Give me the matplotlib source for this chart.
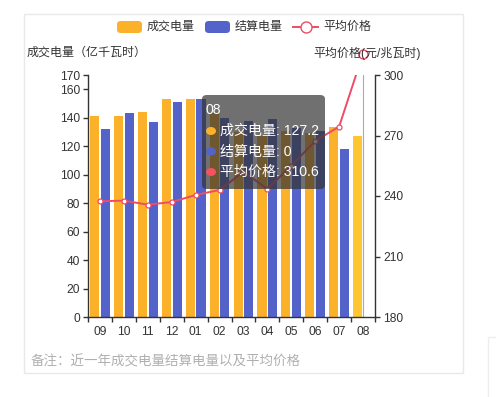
import matplotlib
matplotlib.use("Agg")
import matplotlib.pyplot as plt
from matplotlib.patches import FancyBboxPatch, Rectangle, Circle
from matplotlib.lines import Line2D
import numpy as np

plt.rcParams['font.family'] = ['Liberation Sans', 'Noto Sans CJK SC', 'DejaVu Sans']

months = ['09', '10', '11', '12', '01', '02', '03', '04', '05', '06', '07', '08']
traded = [141.2, 141.0, 144.0, 152.9, 152.9, 143.0, 130.0, 127.0, 130.5, 129.0, 133.7, 127.2]
settled = [132.1, 143.1, 137.2, 151.0, 153.4, 140.0, 138.0, 139.0, 133.0, 131.0, 118.0, 0.0]
price = [237.4, 237.7, 235.7, 237.0, 240.5, 243.0, 252.0, 243.5, 255.0, 267.3, 274.4, 310.6]
left_ticks = [0, 20, 40, 60, 80, 100, 120, 140, 160, 170]
right_ticks = [180, 210, 240, 270, 300]

W, H = 496, 397
ORANGE = '#FCB12B'
ORANGE_HI = '#FFC631'
BLUE = '#5463C9'
RED = '#EE4B66'
AXC = '#333333'

fig = plt.figure(figsize=(W / 100, H / 100), dpi=100)

def fx(x):
    return x / W

def fy(y):
    return 1 - y / H

def pt(px):
    return px * 72 / 100

ax = fig.add_axes([fx(88), fy(317), (375 - 88) / W, (317 - 75) / H])
ax2 = ax.twinx()

x = np.arange(len(months))
bw = 0.38
off = 0.225
cols = [ORANGE] * (len(months) - 1) + [ORANGE_HI]
ax.bar(x - off, traded, width=bw, color=cols, zorder=2)
ax.bar(x + off, settled, width=bw, color=BLUE, zorder=2)

ax.set_xlim(-0.5, len(months) - 0.5)
ax.set_ylim(0, 170)
ax.set_yticks(left_ticks)
ax.set_yticklabels([str(t) for t in left_ticks])
ax.set_xticks(x)
ax.set_xticklabels(months)
ax.set_xticks(np.arange(len(months) + 1) - 0.5, minor=True)
ax.tick_params(axis='x', which='major', length=0, pad=pt(9), labelsize=pt(12), colors=AXC)
ax.tick_params(axis='x', which='minor', length=pt(5), width=1, color=AXC)
ax.tick_params(axis='y', length=pt(5), width=1, color=AXC, pad=pt(3), labelsize=pt(12), labelcolor=AXC)
for s in ['top', 'right']:
    ax.spines[s].set_visible(False)
for s in ['left', 'bottom']:
    ax.spines[s].set_color(AXC)
    ax.spines[s].set_linewidth(1)

# axis pointer line at hovered category
ax.axvline(11, color='#aaaaaa', lw=0.8, zorder=1)

ax2.set_ylim(180, 300)
ax2.set_yticks(right_ticks)
ax2.set_yticklabels([str(t) for t in right_ticks])
ax2.tick_params(axis='y', length=pt(5), width=1, color=AXC, pad=pt(3), labelsize=pt(12), labelcolor=AXC)
for s in ['top', 'left', 'bottom']:
    ax2.spines[s].set_visible(False)
ax2.spines['right'].set_color(AXC)
ax2.spines['right'].set_linewidth(1)

ax2.plot(x, price, color=RED, lw=1.4, zorder=3)
ax2.plot(x[:-1], price[:-1], ls='none', marker='o', ms=pt(5), mfc='white', mec=RED,
         mew=0.9, zorder=4, clip_on=False)
ax2.plot(x[-1:], price[-1:], ls='none', marker='o', ms=pt(9), mfc='white', mec=RED,
         mew=1.0, zorder=4, clip_on=False)

# outer border
fig.patches.append(Rectangle((fx(24), fy(373)), (463 - 24) / W, (373 - 14) / H,
                             transform=fig.transFigure, fill=False, ec='#e8e8e8', lw=1))
fig.lines.append(Line2D([fx(488), fx(488), fx(496)], [fy(397), fy(337), fy(337)],
                        transform=fig.transFigure, color='#eeeeee', lw=1))

# legend
fig.patches.append(FancyBboxPatch((fx(117), fy(33)), 25 / W, 12 / H,
                                  boxstyle='round,pad=0,rounding_size=0.008',
                                  transform=fig.transFigure, fc=ORANGE, ec='none'))
fig.text(fx(147), fy(27), '成交电量', fontsize=pt(12), color=AXC, va='center', ha='left')
fig.patches.append(FancyBboxPatch((fx(205), fy(33)), 25 / W, 12 / H,
                                  boxstyle='round,pad=0,rounding_size=0.008',
                                  transform=fig.transFigure, fc=BLUE, ec='none'))
fig.text(fx(235), fy(27), '结算电量', fontsize=pt(12), color=AXC, va='center', ha='left')
fig.lines.append(Line2D([fx(293), fx(318)], [fy(27), fy(27)], transform=fig.transFigure,
                        color=RED, lw=1.4))
fig.lines.append(Line2D([fx(305.5)], [fy(27)], transform=fig.transFigure, marker='o',
                        ms=pt(11), mfc='white', mec=RED, mew=1.0, ls='none'))
fig.text(fx(323), fy(27), '平均价格', fontsize=pt(12), color=AXC, va='center', ha='left')

# axis names
fig.text(fx(27), fy(53), '成交电量（亿千瓦时）', fontsize=pt(12), color=AXC, va='center', ha='left')
fig.text(fx(313), fy(53), '平均价格(元/兆瓦时)', fontsize=pt(12), color=AXC, va='center',
         ha='left', zorder=1)

# footnote
fig.text(fx(31), fy(361), '备注：近一年成交电量结算电量以及平均价格', fontsize=pt(13.5),
         color='#b0b0b0', va='center', ha='left')

# tooltip
fig.patches.append(FancyBboxPatch((fx(202), fy(189)), 123 / W, 94 / H,
                                  boxstyle='round,pad=0,rounding_size=0.01',
                                  transform=fig.transFigure, fc=(0.2, 0.2, 0.2, 0.7),
                                  ec='none', zorder=10))
fig.text(fx(206), fy(110), months[-1], fontsize=pt(14), color='white', va='center',
         ha='left', zorder=11)
tip_rows = [('成交电量', traded[-1], '#FDB12B'), ('结算电量', settled[-1], BLUE),
            ('平均价格', price[-1], '#F5515F')]
for i, (name, val, c) in enumerate(tip_rows):
    yy = 131 + i * 20.5
    fig.patches.append(Circle((fx(211), fy(yy)), 5 / W, transform=fig.transFigure,
                              fc=c, ec='none', zorder=11))
    vs = f'{val:g}' if val != 0 else '0'
    fig.text(fx(220), fy(yy), f'{name}: {vs}', fontsize=pt(14), color='white',
             va='center', ha='left', zorder=11)

fig.savefig('out.png', dpi=100)
